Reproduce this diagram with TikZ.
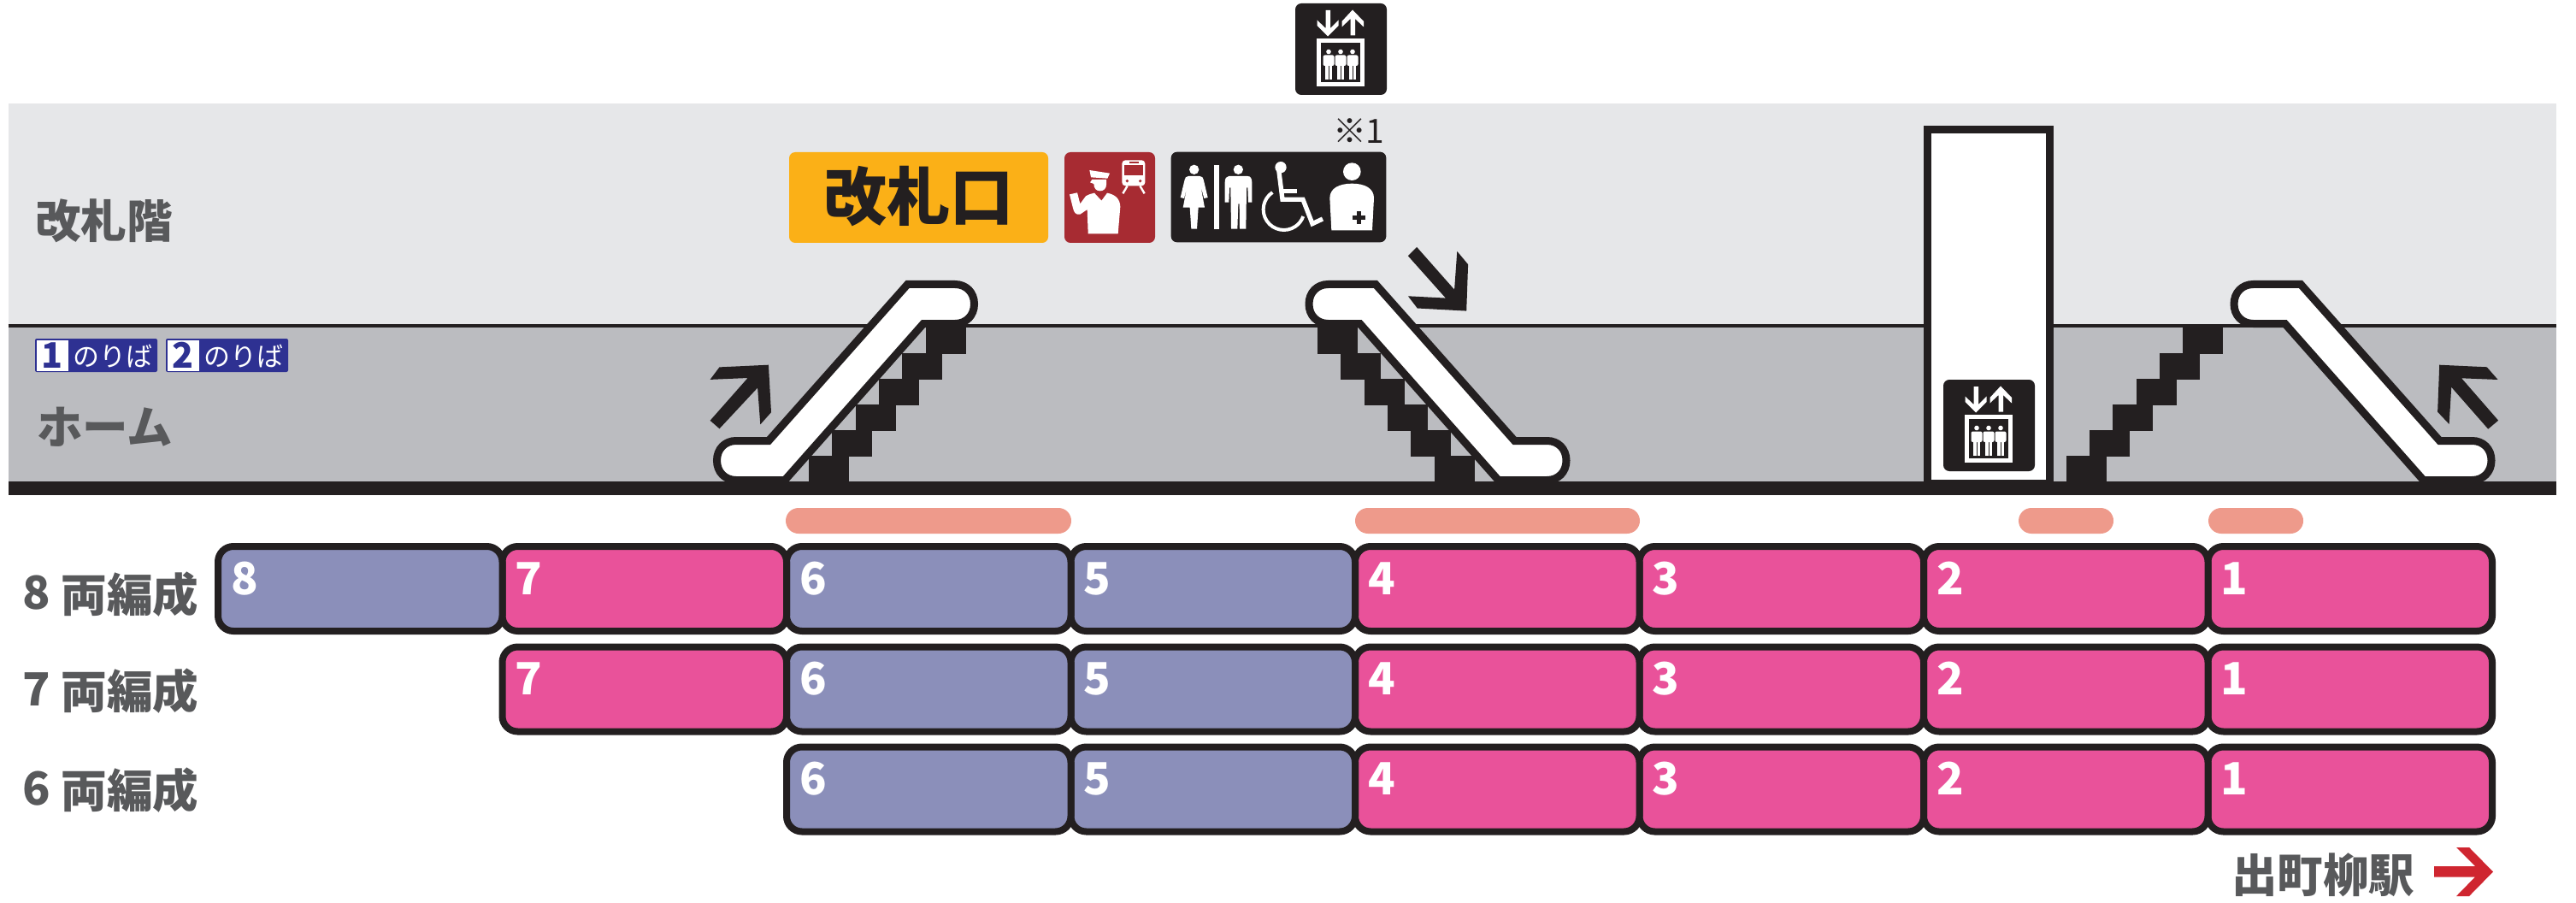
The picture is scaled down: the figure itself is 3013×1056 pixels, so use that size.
\documentclass[tikz,border=0pt]{standalone}
\usepackage{fontspec}
\setmainfont{Noto Sans CJK JP}
\usepackage{tikz}
\definecolor{inkblack}{HTML}{231F20}
\definecolor{labelgrey}{HTML}{58595B}
\definecolor{upperband}{HTML}{E6E7E9}
\definecolor{lowerband}{HTML}{BBBCC0}
\definecolor{carpink}{HTML}{E9529A}
\definecolor{carlav}{HTML}{8B8FBA}
\definecolor{peachbar}{HTML}{EE9A8B}
\definecolor{gateorange}{HTML}{FBB017}
\definecolor{staffred}{HTML}{A72B32}
\definecolor{platenavy}{HTML}{2E3192}
\definecolor{arrowred}{HTML}{CF2630}
\tikzset{
  every pic/.style={yscale=-1},
  carbox/.style={draw=inkblack,line width=8pt,rounded corners=18pt,minimum width=332.5pt,minimum height=99pt,inner sep=0pt},
  carnum/.style={anchor=base west,inner sep=0pt,outer sep=0pt,text=white,font=\fontsize{52pt}{56pt}\selectfont\bfseries},
  floortext/.style={anchor=base west,inner sep=0pt,outer sep=0pt,text=labelgrey,font=\fontsize{53.5pt}{60pt}\selectfont\bfseries},
  platedigit/.style={anchor=base,inner sep=0pt,outer sep=0pt,text=platenavy,font=\fontsize{41pt}{44pt}\selectfont\bfseries},
  platetext/.style={anchor=base west,inner sep=0pt,outer sep=0pt,text=white,font=\fontsize{31pt}{34pt}\selectfont},
  stopbar/.style={fill=peachbar,rounded corners=15pt},
  stairs/.pic={
    \foreach \sx/\sy in {946/533,973.3/503,1000.6/473,1028/443,1055.3/413,1082.6/383}
      \fill [inkblack] (\sx,\sy) rectangle ++(47,30.5);
  },
  escalator/.pic={
    \draw [draw=inkblack,fill=white,line width=9pt,line join=miter] (1061.5,332.5) -- (1117,332.5) .. controls (1130,332.5) and (1139.5,342) .. (1139.5,355.5) .. controls (1139.5,369) and (1130,378.5) .. (1117,378.5) -- (1080,378.5) -- (918,561.5) -- (861,561.5) .. controls (848,561.5) and (838.5,552) .. (838.5,538.5) .. controls (838.5,525) and (848,515.5) .. (861,515.5) -- (899,515.5) -- cycle;
  },
  elevator/.pic={
    \fill [inkblack,rounded corners=7pt] (0,0) rectangle (107,107);
    \fill [white] (25.5,19.5) -- (25.5,26) -- (38,38.5) -- (50.5,26) -- (50.5,19.5) -- (41,29) -- (41,8) -- (35.5,8) -- (35.5,29) -- cycle;
    \fill [white] (67,7.5) -- (80,21) -- (80,27.5) -- (70,18) -- (70,37.5) -- (64.5,37.5) -- (64.5,18) -- (54.5,27.5) -- (54.5,21) -- cycle;
    \draw [white,line width=5pt] (27.8,43.5) rectangle (78.2,94.2);
    \foreach \px in {39,53,67}{
      \fill [white] (\px,56.5) circle (2.8);
      \fill [white,rounded corners=2pt] ({\px-6.5},73) -- ({\px-6.5},60.5) -- ({\px+6.5},60.5) -- ({\px+6.5},73) -- cycle;
      \fill [white] ({\px-4},68) rectangle ({\px-0.5},89);
      \fill [white] ({\px+0.5},68) rectangle ({\px+4},89);
    }
  },
}

\begin{document}
\begin{tikzpicture}[x=1pt,y=1pt,yscale=-1,xscale=1]
\useasboundingbox (0,0) rectangle (3013,1056);

%Shape: floor bands
\fill [upperband] (9.6,121) rectangle (2990,381);
\fill [lowerband] (9.6,381) rectangle (2990,563);
\draw [inkblack,line width=4.5pt] (9.6,381) -- (2990,381);

%Shape: stairs
\pic at (0,0) {stairs};
\pic [xscale=-1] at (2670.5,0) {stairs};
\pic at (1470.5,0) {stairs};

%Shape: escalators
\pic at (0,0) {escalator};
\pic [xscale=-1] at (2670.5,0) {escalator};
\pic [xscale=-1] at (3752.5,0) {escalator};

%Shape: elevator shaft
\draw [draw=inkblack,fill=white,line width=9pt] (2254.5,152) rectangle (2397.5,565);

%Shape: floor line
\fill [inkblack] (9.6,563) rectangle (2990,579);

%Shape: direction arrows
\fill [inkblack] (898.9,426.7) -- (902,482.2) -- (889.3,496.4) -- (886.1,453.5) -- (841.5,501.3) -- (830.6,491.8) -- (874.6,442) -- (830.6,443.9) -- (841.5,429.4) -- cycle;
\fill [inkblack] (1715.2,363.6) -- (1657.8,360.5) -- (1646.9,346.3) -- (1690.9,348.6) -- (1646.9,299.3) -- (1657.1,288.9) -- (1701.1,338.7) -- (1704.3,293.9) -- (1717.1,309.2) -- cycle;
\fill [inkblack] (2853.2,426.7) -- (2908.7,429.3) -- (2921.6,444) -- (2879.1,442.3) -- (2922.1,491.7) -- (2910.2,501.7) -- (2867.2,452.7) -- (2864.6,496) -- (2851.1,481.7) -- cycle;

%Shape: elevator signs
\pic at (1515,4) {elevator};
\pic at (2273,444) {elevator};

%Shape: ticket gate sign
\fill [gateorange,rounded corners=7pt] (923,178) rectangle (1226,284);
\draw (963,258) node (gatetext) [anchor=base west,inner sep=0pt,text=inkblack,font=\fontsize{74pt}{80pt}\selectfont\bfseries] {改札口};

%Shape: attendant sign
\fill [staffred,rounded corners=7pt] (1245,178) rectangle (1351,284);
\begin{scope}[shift={(1220,130)},scale=1/3]
\fill [white] (163,207) -- (234,218) -- (226,236) -- (168,232) -- cycle;
\fill [white] (172,240) -- (222,240) -- (222,258) .. controls (222,272) and (212,280) .. (200,280) .. controls (188,280) and (178,272) .. (178,255) -- (165,250) -- cycle;
\fill [white] (93,292) -- (120,286) -- (130,325) -- (150,298) .. controls (160,292) and (170,289) .. (180,287) -- (205,314) -- (225,287) .. controls (250,292) and (270,305) .. (271,335) -- (263,430) -- (158,430) -- (155,345) -- (130,362) .. controls (115,365) and (108,355) .. (105,340) -- cycle;
\fill [white,rounded corners=4pt] (277,172) rectangle (358,262);
\fill [staffred] (286,190) rectangle (351,225);
\fill [staffred] (302,178) rectangle (335,184);
\fill [staffred] (295,245) circle (5.5);
\fill [staffred] (341,245) circle (5.5);
\draw [white,line width=2.4pt] (296,262) -- (280,289);
\draw [white,line width=2.4pt] (340,262) -- (356,289);

%Shape: facilities sign
\fill [inkblack,rounded corners=7pt] (449,143) rectangle (1204,460);
\fill [white] (530,205) circle (17);
\fill [white] (510,228) -- (550,228) .. controls (558,228) and (562,234) .. (563,240) -- (578,303) -- (565,306) -- (553,262) -- (567,338) -- (545,338) -- (540,413) -- (520,413) -- (515,338) -- (491,338) -- (506,262) -- (495,306) -- (482,303) -- (497,240) .. controls (498,234) and (502,228) .. (510,228) -- cycle;
\fill [white] (600,188) rectangle (618,413);
\fill [white] (685,205) circle (17);
\fill [white] (638,250) -- (638,320) -- (652,320) -- (654,268) -- (658,268) -- (660,413) -- (682,413) -- (685,325) -- (689,325) -- (690,413) -- (712,413) -- (714,268) -- (718,268) -- (720,320) -- (733,320) -- (733,250) .. controls (733,236) and (728,228) .. (718,228) -- (652,228) .. controls (643,228) and (638,236) .. (638,250) -- cycle;
\fill [white] (834,197) circle (20);
\draw [white,line width=5.3pt] (827,205) -- (840,310) -- (912,310) -- (945,395) -- (981,378);
\draw [white,line width=5.3pt] (838,280) -- (891,280);
\draw [white,line width=4pt] (805,285) arc [start angle=236.3,end angle=19.7,radius=72];
\fill [white] (1084,212) circle (31);
\fill [white] (1006,305) .. controls (1006,270) and (1040,254) .. (1084,254) .. controls (1128,254) and (1161,270) .. (1161,305) -- (1155,418) -- (1012,418) -- cycle;
\fill [inkblack] (1102,350) rectangle (1115,396);
\fill [inkblack] (1086,366) rectangle (1131,380);
\end{scope}

% Text Node
\draw (1619,168) node (notemark) [anchor=base east,inner sep=0pt,text=inkblack,font=\fontsize{39pt}{42pt}\selectfont] {※\hspace{-1pt}1};

% Text Node
\draw (41,279) node (gatefloor) [floortext] {改札階};
% Text Node
\draw (43,519) node (platform) [floortext] {ホーム};

%Shape: track plates
\foreach \pn/\plx in {1/41,2/194}{
  \fill [platenavy,rounded corners=2pt] (\plx,396) rectangle ++(143,39);
  \fill [white] ({\plx+1.5},397.5) rectangle ++(37,36);
  \node (platedigit\pn) [platedigit] at ({\plx+19.5},430.5) {\pn};
  \node (platetext\pn) [platetext] at ({\plx+44},428) {のりば};
}

%Shape: stop bars
\fill [stopbar] (919,594) rectangle (1253,624);
\fill [stopbar] (1585,594) rectangle (1918,624);
\fill [stopbar] (2361,594) rectangle (2472,624);
\fill [stopbar] (2583,594) rectangle (2694,624);

%Shape: cars
\foreach \rown/\yc/\ybase in {8/688.5/715,7/806/828,6/923/944}{
  \draw (27,\ybase) node (rowlabel\rown) [floortext] {\raisebox{3pt}{\rown} 両編成};
  \foreach \cn/\fc in {1/carpink,2/carpink,3/carpink,4/carpink,5/carlav,6/carlav,7/carpink,8/carlav}{
    \ifnum\cn>\rown\else
      \pgfmathsetmacro{\xc}{2748.75-332.5*(\cn-1)}
      \node (car\rown-\cn) [carbox,fill=\fc] at (\xc,\yc) {};
      \node (num\rown-\cn) [carnum] at ([xshift=19pt,yshift=60pt]car\rown-\cn.north west) {\cn};
    \fi
  }
}

% Text Node
\draw (2610,1043) node (station) [floortext] {出町柳駅};

%Shape: direction to station
\fill [arrowred] (2847,1013) -- (2895,1013) -- (2873,991) -- (2888,991) -- (2916,1019.5) -- (2888,1048) -- (2873,1048) -- (2895,1025.5) -- (2847,1025.5) -- cycle;

\end{tikzpicture}
\end{document}
